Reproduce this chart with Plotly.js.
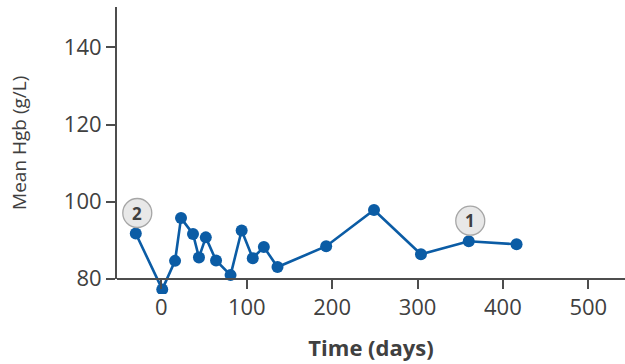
<!DOCTYPE html>
<html>
<head>
<meta charset="utf-8">
<script src="https://cdn.plot.ly/plotly-3.0.1.min.js"></script>
<style>
  html, body { margin: 0; padding: 0; background: #ffffff; }
  #chart { width: 625px; height: 364px; }
</style>
</head>
<body>
<div id="chart"></div>
<script>
// Mean haemoglobin over time
const days = [-30, 1, 16, 23, 37, 44, 52, 64, 81, 94, 107, 120, 136, 193, 249, 304, 360, 416];
const meanHgb = [91.7, 77.2, 84.6, 95.7, 91.6, 85.5, 90.7, 84.7, 80.9, 92.5, 85.3, 88.2, 83.0, 88.4, 97.8, 86.3, 89.7, 88.9];

// Numbered flags placed on specific visits (index into the series)
const flagIndex = [0, 16];
const flagLabels = ['2', '1'];

const xTicks = [0, 100, 200, 300, 400, 500];
const yTicks = [80, 100, 120, 140];

const blue = '#0b5ca5';
const axisColor = '#4d4d4d';
const textColor = '#404040';
const fontFamily = '"Open Sans", "Liberation Sans", sans-serif';

// The data layer extends a little below the visible y axis so the lowest
// marker is not clipped; the visible axes start at y = 80.
const yAxisMin = 80, yAxisMax = 150.5, yDataMin = 76;
const axisFrac = (yAxisMin - yDataMin) / (yAxisMax - yDataMin);

const trace = {
  x: days,
  y: meanHgb,
  type: 'scatter',
  mode: 'lines+markers',
  line: { color: blue, width: 2.6 },
  marker: { color: blue, size: 12 },
  xaxis: 'x', yaxis: 'y',
  hoverinfo: 'x+y'
};

// Empty trace that carries the visible y axis
const axisCarrier = { x: [], y: [], type: 'scatter', mode: 'markers', xaxis: 'x', yaxis: 'y2', showlegend: false };

const shapes = flagIndex.map(i => ({
  type: 'circle',
  xref: 'x', yref: 'y',
  xsizemode: 'pixel', ysizemode: 'pixel',
  xanchor: days[i], yanchor: meanHgb[i],
  x0: -13, x1: 16, y0: 6, y1: 35,
  fillcolor: '#e8e8e8',
  line: { color: '#a6a6a6', width: 1.3 },
  layer: 'above'
}));

const annotations = flagIndex.map((i, k) => ({
  x: days[i], y: meanHgb[i],
  xref: 'x', yref: 'y',
  text: '<b>' + flagLabels[k] + '</b>',
  showarrow: false,
  xshift: 1.5, yshift: 20.5,
  font: { family: fontFamily, size: 17, color: textColor }
}));

const layout = {
  width: 625,
  height: 364,
  margin: { l: 117, r: 0, t: 7, b: 70, pad: 0 },
  paper_bgcolor: '#ffffff',
  plot_bgcolor: 'rgba(0,0,0,0)',
  showlegend: false,
  font: { family: fontFamily, color: textColor },
  xaxis: {
    range: [-52, 543],
    anchor: 'free', position: axisFrac,
    tickvals: xTicks,
    ticktext: xTicks.map(String),
    ticks: 'outside', ticklen: 9, tickwidth: 2, tickcolor: axisColor,
    showline: true, linecolor: axisColor, linewidth: 2,
    showgrid: false, zeroline: false,
    tickfont: { family: fontFamily, size: 22, color: textColor },
    title: { text: '<b>Time (days)</b>', font: { family: fontFamily, size: 22, color: textColor }, standoff: 20 }
  },
  yaxis: {
    range: [yDataMin, yAxisMax],
    domain: [0, 1],
    visible: false,
    fixedrange: true
  },
  yaxis2: {
    range: [yAxisMin, yAxisMax],
    domain: [axisFrac, 1],
    anchor: 'x',
    tickvals: yTicks,
    ticktext: yTicks.map(String),
    ticks: 'outside', ticklen: 9, tickwidth: 2, tickcolor: axisColor,
    showline: true, linecolor: axisColor, linewidth: 2,
    showgrid: false, zeroline: false,
    tickfont: { family: fontFamily, size: 22, color: textColor },
    title: { text: 'Mean Hgb (g/L)', font: { family: fontFamily, size: 19, color: textColor }, standoff: 32 }
  },
  shapes: shapes,
  annotations: annotations
};

Plotly.newPlot('chart', [trace, axisCarrier], layout, { displayModeBar: false, staticPlot: true });
</script>
</body>
</html>
